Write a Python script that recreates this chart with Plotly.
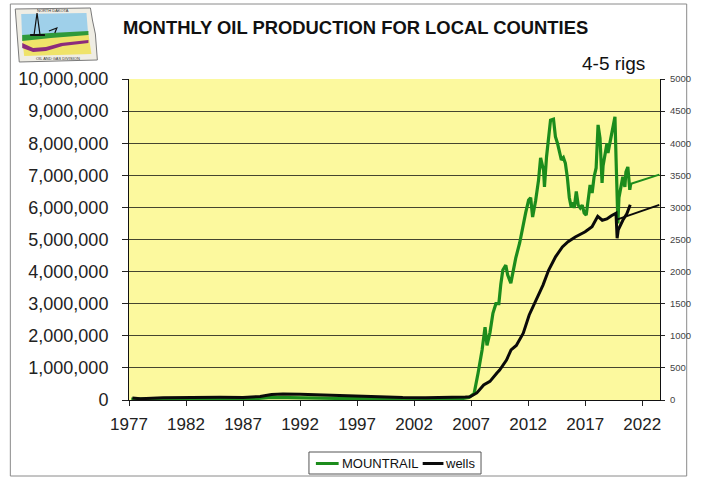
import plotly.graph_objects as go

# ---- Data -------------------------------------------------------------
# Mountrail County monthly oil production (barrels), by decimal year
mountrail_year = [1977.2, 1980.0, 1985.0, 1988.0, 1989.5, 1991.0, 1993.0, 1997.0, 2002.0, 2006.0,
                  2006.8, 2007.26, 2007.61, 2007.96, 2008.22, 2008.39, 2008.65, 2008.91, 2009.17, 2009.43,
                  2009.6, 2009.78, 2010.04, 2010.2, 2010.48, 2010.74, 2010.91, 2011.26, 2011.52, 2011.78,
                  2012.04, 2012.22, 2012.39, 2012.65, 2012.91, 2013.09, 2013.35, 2013.43, 2013.61, 2013.78,
                  2013.96, 2014.22, 2014.39, 2014.57, 2014.74, 2014.91, 2015.09, 2015.26, 2015.43, 2015.61,
                  2015.78, 2015.96, 2016.04, 2016.22, 2016.39, 2016.57, 2016.74, 2016.91, 2017.09, 2017.26,
                  2017.43, 2017.61, 2017.78, 2017.96, 2018.13, 2018.3, 2018.48, 2018.57, 2018.74, 2018.91,
                  2019.0, 2019.17, 2019.35, 2019.52, 2019.61, 2019.7, 2019.78, 2019.87, 2019.96, 2020.13,
                  2020.3, 2020.48, 2020.57, 2020.74, 2020.91, 2021.0]
mountrail_bbl = [30000, 30000, 30000, 40000, 80000, 70000, 50000, 40000, 30000, 30000,
                 80000, 200000, 840000, 1560000, 2270000, 1700000, 2100000, 2700000, 3000000, 3000000,
                 3600000, 4050000, 4200000, 3900000, 3640000, 4200000, 4420000, 4900000, 5400000, 5830000,
                 6230000, 6300000, 5700000, 6200000, 6850000, 7540000, 7160000, 6640000, 7570000, 8200000,
                 8720000, 8750000, 8200000, 8000000, 7700000, 7480000, 7550000, 7380000, 6950000, 6300000,
                 6000000, 6150000, 5980000, 6500000, 6070000, 5980000, 6070000, 5830000, 5760000, 6300000,
                 6700000, 6450000, 6950000, 7230000, 8570000, 8160000, 6760000, 7300000, 7630000, 8000000,
                 7700000, 8000000, 8350000, 8660000, 8820000, 7600000, 6070000, 5500000, 6300000, 6700000,
                 6950000, 6640000, 7100000, 7260000, 6550000, 6750000]

# Producing wells (right axis)
wells_year = [1977.3, 1978.0, 1980.0, 1982.0, 1985.0, 1987.0, 1988.5, 1989.5, 1990.5, 1992.0,
              1994.0, 1996.0, 1997.5, 1999.0, 2001.0, 2003.0, 2005.0, 2006.5, 2006.9, 2007.5,
              2008.1, 2008.65, 2009.26, 2009.5, 2010.1, 2010.5, 2010.96, 2011.57, 2012.09, 2012.7,
              2013.3, 2013.8, 2014.4, 2015.0, 2015.5, 2016.13, 2017.0, 2017.6, 2018.1, 2018.5,
              2018.9, 2019.3, 2019.7, 2019.8, 2019.9, 2020.3, 2020.65, 2020.95]
wells_count = [30, 20, 35, 40, 42, 38, 55, 85, 92, 90,
               78, 65, 58, 45, 38, 35, 35, 45, 50, 110,
               234, 290, 420, 467, 623, 780, 850, 1040, 1325, 1558,
               1790, 2025, 2230, 2385, 2465, 2540, 2620, 2700, 2860, 2800,
               2820, 2870, 2910, 2520, 2650, 2800, 2900, 3040]

# Straight-line projections ("4-5 rigs" scenario)
proj_oil_year = [2020.95, 2023.5]
proj_oil_bbl = [6730000, 7020000]
proj_wells_year = [2019.7, 2023.5]
proj_wells_count = [2805, 3040]

x_ticks = [1977, 1982, 1987, 1992, 1997, 2002, 2007, 2012, 2017, 2022]
x_range = [1977, 2023.56]

GREEN = "#1C8C1C"
BLACK = "#0A0A0A"
FONT = "Arial, Liberation Sans, sans-serif"

# ---- Figure -----------------------------------------------------------
W_FIG, H_FIG = 703, 477
L, R, T, B = 129, 37, 79, 77
PW, PH = W_FIG - L - R, H_FIG - T - B


def px(x):
    return (x - L) / PW


def py(y):
    return 1 - (y - T) / PH


def path(points, close=True):
    s = "M " + " L ".join(f"{px(x):.4f},{py(y):.4f}" for x, y in points)
    return s + (" Z" if close else "")


fig = go.Figure()
fig.add_trace(go.Scatter(x=mountrail_year, y=mountrail_bbl, name="MOUNTRAIL", mode="lines",
                         line=dict(color=GREEN, width=3.2)))
fig.add_trace(go.Scatter(x=wells_year, y=wells_count, name="wells", mode="lines", yaxis="y2",
                         line=dict(color=BLACK, width=3)))
fig.add_trace(go.Scatter(x=proj_oil_year, y=proj_oil_bbl, mode="lines", showlegend=False,
                         line=dict(color=GREEN, width=2)))
fig.add_trace(go.Scatter(x=proj_wells_year, y=proj_wells_count, mode="lines", yaxis="y2",
                         showlegend=False, line=dict(color=BLACK, width=2)))

shapes = []
# outer chart frame
shapes.append(dict(type="rect", xref="paper", yref="paper", x0=px(9), x1=px(693), y0=py(4), y1=py(476),
                   line=dict(color="#8a8a8a", width=1), fillcolor="rgba(0,0,0,0)", layer="below"))

# logo: state outline with sky, land layers and a derrick
shapes += [
    dict(type="path", xref="paper", yref="paper", path=path([(14, 9), (90, 8), (92, 20), (95, 34), (97, 60), (18, 62)]),
         fillcolor="#efede4", line=dict(color="#7a7a7a", width=1)),
    dict(type="path", xref="paper", yref="paper", path=path([(20, 14), (86, 13), (88, 38), (21, 40)]),
         fillcolor="#9fd0ea", line=dict(width=0)),
    dict(type="path", xref="paper", yref="paper", path=path([(21, 38), (88, 34), (91, 54), (23, 56)]),
         fillcolor="#efe36a", line=dict(width=0)),
    dict(type="path", xref="paper", yref="paper", path=path([(21, 35), (50, 33), (88, 31), (88, 35), (50, 38), (21, 41)]),
         fillcolor="#2f9a3a", line=dict(width=0)),
    dict(type="path", xref="paper", yref="paper",
         path=path([(21, 43), (32, 48), (45, 47), (60, 43), (88, 40), (88, 43), (62, 46), (45, 51), (32, 52), (21, 48)]),
         fillcolor="#8c2b7c", line=dict(width=0)),
    dict(type="path", xref="paper", yref="paper", path=path([(33, 35), (36, 13), (39, 35)]),
         fillcolor="rgba(0,0,0,0)", line=dict(color="#111", width=1.2)),
    dict(type="path", xref="paper", yref="paper", path=path([(29, 35), (44, 35)], close=False),
         line=dict(color="#111", width=2)),
    dict(type="path", xref="paper", yref="paper", path=path([(48, 31), (56, 28), (54, 33)], close=False),
         line=dict(color="#111", width=1.2)),
]

# legend box drawn as a framed key
shapes.append(dict(type="rect", xref="paper", yref="paper", x0=px(311), x1=px(485), y0=py(452), y1=py(474),
                   line=dict(color="#555", width=1), fillcolor="white"))
shapes.append(dict(type="line", xref="paper", yref="paper", x0=px(318), x1=px(341), y0=py(463.5), y1=py(463.5),
                   line=dict(color=GREEN, width=3)))
shapes.append(dict(type="line", xref="paper", yref="paper", x0=px(426), x1=px(447), y0=py(463.5), y1=py(463.5),
                   line=dict(color=BLACK, width=3)))

annotations = [
    dict(text="4-5 rigs", xref="paper", yref="paper", x=px(585), y=py(63), xanchor="left", yanchor="middle",
         showarrow=False, font=dict(family=FONT, size=19, color="#111")),
    dict(text="MOUNTRAIL", xref="paper", yref="paper", x=px(342), y=py(463.5), xanchor="left", yanchor="middle",
         showarrow=False, font=dict(family=FONT, size=13, color="#111")),
    dict(text="wells", xref="paper", yref="paper", x=px(447), y=py(463.5), xanchor="left", yanchor="middle",
         showarrow=False, font=dict(family=FONT, size=13, color="#111")),
    dict(text="NORTH DAKOTA", xref="paper", yref="paper", x=px(52), y=py(10.5), xanchor="center", yanchor="middle",
         showarrow=False, font=dict(family=FONT, size=4, color="#333")),
    dict(text="OIL AND GAS DIVISION", xref="paper", yref="paper", x=px(57), y=py(58.5), xanchor="center",
         yanchor="middle", showarrow=False, font=dict(family=FONT, size=4, color="#333")),
]

fig.update_layout(
    width=W_FIG, height=H_FIG,
    margin=dict(l=L, r=R, t=T, b=B),
    paper_bgcolor="white",
    plot_bgcolor="#FCF99E",
    showlegend=False,
    title=dict(text="<b>MONTHLY OIL PRODUCTION FOR LOCAL COUNTIES</b>", xref="container", yref="container",
               x=123 / W_FIG, y=1 - 28 / H_FIG, xanchor="left", yanchor="middle",
               font=dict(family=FONT, size=18.4, color="#111")),
    font=dict(family=FONT, color="#222"),
    xaxis=dict(range=x_range, tickvals=x_ticks, ticktext=[str(v) for v in x_ticks],
               ticks="outside", ticklen=5, tickcolor="#222", showline=True, linecolor="#111", linewidth=1,
               showgrid=False, zeroline=False, tickfont=dict(size=17, color="#222"), ticklabelstandoff=4),
    yaxis=dict(range=[0, 10000000], dtick=1000000, tickformat=",d", ticks="outside", ticklen=6,
               tickcolor="#222", showline=True, linecolor="#111", linewidth=1, showgrid=True,
               gridcolor="#45452f", gridwidth=1, zeroline=False, tickfont=dict(size=18, color="#222"),
               ticklabelstandoff=10),
    yaxis2=dict(range=[0, 5000], dtick=500, overlaying="y", side="right", ticks="outside", ticklen=4,
                tickcolor="#222", showline=True, linecolor="#111", linewidth=1, showgrid=False,
                zeroline=False, tickfont=dict(size=9.5, color="#444"), ticklabelstandoff=3),
    shapes=shapes,
    annotations=annotations,
)

fig.write_html("out.html")
